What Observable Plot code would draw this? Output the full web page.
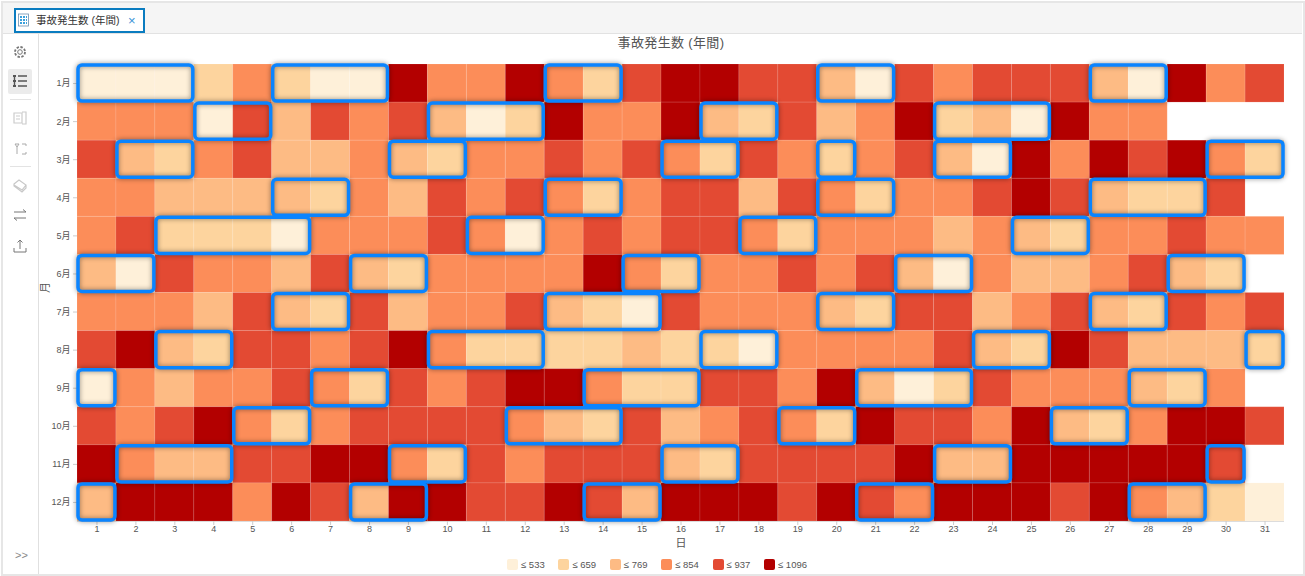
<!DOCTYPE html>
<html lang="ja">
<head>
<meta charset="utf-8">
<title>事故発生数 (年間)</title>
<script src="https://cdn.jsdelivr.net/npm/d3@7"></script>
<script src="https://cdn.jsdelivr.net/npm/@observablehq/plot@0.6"></script>
<style>
  html, body { margin: 0; padding: 0; background: #fff; overflow: hidden; }
  body { width: 1305px; height: 576px; position: relative; font-family: "Liberation Sans", "Noto Sans CJK JP", sans-serif; }
  #chart { position: absolute; left: 0; top: 0; }
  .abs { position: absolute; box-sizing: border-box; }
  #frame { left: 1px; top: 1px; width: 1304px; height: 575px; border: 2px solid #e6e6e6; pointer-events: none; }
  #tabbar { left: 3px; top: 3px; width: 1299px; height: 31px; background: #f5f5f5; border-bottom: 1px solid #e2e2e2; }
  #tab { left: 14px; top: 8px; width: 131px; height: 25px; background: #fff; border: 2px solid #0a7cc0; font-size: 10.5px; color: #333; line-height: 21px; padding-left: 20px; white-space: nowrap; }
  #tab .x { position: absolute; left: 112px; top: 0; color: #3a93d6; font-size: 13px; }
  #sidebar { left: 38px; top: 34px; width: 1px; height: 540px; background: #e0e0e0; }
  #active { left: 8px; top: 69px; width: 24px; height: 25px; background: #ebebeb; border-radius: 2px; }
  .sep { left: 10px; width: 21px; height: 1px; background: #e3e3e3; }
  .icon { left: 12px; width: 16px; height: 16px; }
  #title { left: 38px; top: 32px; width: 1266px; text-align: center; font-size: 13px; color: #555; letter-spacing: .35px; }
  #legend { left: 0; top: 559px; width: 1305px; height: 13px; font-size: 9.5px; color: #555; }
  #legend .sw { position: absolute; top: 0; width: 11px; height: 11px; border-radius: 2px; }
  #legend .lb { position: absolute; top: 0; line-height: 12px; white-space: nowrap; }
</style>
</head>
<body>
<div id="chart"></div>
<div class="abs" id="frame"></div>
<div class="abs" id="tabbar"></div>
<div class="abs" id="tab">事故発生数 (年間)<span class="x">×</span></div>
<svg class="abs" style="left:17px;top:13px;width:13px;height:14px" viewBox="0 0 13 14" fill="none">
  <rect x="1.5" y="1" width="10" height="12" stroke="#6b8fb0" stroke-width=".8"/>
  <path d="M3 4h7M3 7h7M3 10h7" stroke="#3aa0dc" stroke-width="2" stroke-dasharray="2 1"/>
</svg>
<div class="abs" id="sidebar"></div>
<div class="abs" id="active"></div>
<svg class="abs icon" style="top:44px" viewBox="0 0 16 16" fill="none" stroke="#777" stroke-width="1">
  <circle cx="8" cy="8" r="2.3"/><circle cx="8" cy="8" r="5" stroke-dasharray="2.4 1.5" stroke-width="1.8"/>
</svg>
<svg class="abs icon" style="top:73px" viewBox="0 0 16 16" fill="none" stroke="#555" stroke-width="1.4">
  <path d="M6 3h9M6 8h9M6 13h9M2.5 2v12" /><path d="M1 3h3M1 8h3M1 13h3" stroke-width="2"/>
</svg>
<div class="abs sep" style="top:99px"></div>
<svg class="abs icon" style="top:110px" viewBox="0 0 16 16" fill="none" stroke="#ccc" stroke-width="1.2">
  <path d="M2 3h8v10H2zM10 2h4v12h-4M4 6h4M4 9h4" />
</svg>
<svg class="abs icon" style="top:141px" viewBox="0 0 16 16" fill="none" stroke="#aaa" stroke-width="1">
  <path d="M3 3l4 0-2 3zM5 6v7M10 3h4v2M14 11v2h-4" />
</svg>
<div class="abs sep" style="top:166px"></div>
<svg class="abs icon" style="top:177px" viewBox="0 0 16 16" fill="none" stroke="#c8c8c8" stroke-width="1.2">
  <path d="M2 7l5-4 7 5-4 5-8-5zM2 7v2l8 6 4-4v-3" />
</svg>
<svg class="abs icon" style="top:207px" viewBox="0 0 16 16" fill="none" stroke="#777" stroke-width="1">
  <path d="M2 5h12M11 2.500l3 2.500M14 11H2M5 13.500L2 11" />
</svg>
<svg class="abs icon" style="top:238px" viewBox="0 0 16 16" fill="none" stroke="#777" stroke-width="1">
  <path d="M8 2v9M5.500 4.500L8 2l2.500 2.500M2 10v4h12v-4" />
</svg>
<div class="abs" style="left:15px;top:549px;font-size:11px;color:#888">&gt;&gt;</div>
<div class="abs" id="title">事故発生数 (年間)</div>
<div class="abs" id="legend"></div>
<script>
// Class of each cell: 1 = lightest (≤ 533) ... 6 = darkest (≤ 1096)
const jan = [1,1,1,2,4,2,1,1,6,4,4,6,4,2,5,6,6,5,5,3,1,5,4,5,5,5,3,1,6,4,5];
const feb = [4,4,4,1,5,3,5,4,5,3,1,2,6,4,4,6,3,2,5,3,4,6,2,3,1,6,4,4];
const mar = [5,3,2,4,5,3,3,4,3,2,4,4,5,4,5,4,2,5,4,2,4,5,3,1,6,4,6,5,6,4,2];
const apr = [4,4,3,3,3,3,2,4,3,5,4,5,4,2,4,5,5,3,5,4,2,4,4,5,6,5,3,2,2,5];
const may = [4,5,2,2,2,1,4,4,4,5,4,1,4,5,4,5,5,4,2,4,4,4,3,4,3,2,4,4,5,4,4];
const jun = [3,1,5,4,4,3,5,3,2,4,4,4,4,6,4,2,4,4,5,4,5,3,1,4,3,3,4,5,3,2];
const jul = [4,4,4,3,5,3,2,5,3,4,4,5,3,2,1,5,4,4,4,3,2,5,5,3,4,5,3,2,5,4,5];
const aug = [5,6,3,2,5,5,4,5,6,4,2,2,2,2,3,2,2,1,4,4,4,4,5,3,2,6,5,3,3,3,2];
const sep = [1,4,3,4,4,5,4,2,5,4,5,6,6,4,2,2,5,5,4,6,3,1,2,5,4,4,4,3,2,4];
const oct = [5,4,5,6,4,2,4,5,5,5,5,4,3,2,5,3,4,5,4,2,6,5,5,4,6,3,2,4,6,6,5];
const nov = [6,4,3,3,5,5,6,6,4,2,5,4,5,5,5,3,2,5,5,5,5,6,3,3,6,6,6,6,6,5];
const dec = [3,6,6,6,4,6,5,3,6,6,5,5,6,5,3,6,6,6,5,6,5,4,6,6,6,5,6,4,3,2,1];
const rows = [jan,feb,mar,apr,may,jun,jul,aug,sep,oct,nov,dec];

const classLabels = ["≤ 533","≤ 659","≤ 769","≤ 854","≤ 937","≤ 1096"];
const classColors = ["#fef0d9","#fdd49e","#fdbb84","#fc8d59","#e34a33","#b30000"];
const dayTicks = d3.range(1,32);
const monthTicks = d3.range(1,13);

// Highlighted runs: [month, first day, last day]
const runs = [
  [1,1,3],[1,6,8],[1,13,14],[1,20,21],[1,27,28],
  [2,4,5],[2,10,12],[2,17,18],[2,23,25],
  [3,2,3],[3,9,10],[3,16,17],[3,20,20],[3,23,24],[3,30,31],
  [4,6,7],[4,13,14],[4,20,21],[4,27,29],
  [5,3,6],[5,11,12],[5,18,19],[5,25,26],
  [6,1,2],[6,8,9],[6,15,16],[6,22,23],[6,29,30],
  [7,6,7],[7,13,15],[7,20,21],[7,27,28],
  [8,3,4],[8,10,12],[8,17,18],[8,24,25],[8,31,31],
  [9,1,1],[9,7,8],[9,14,16],[9,21,23],[9,28,29],
  [10,5,6],[10,12,14],[10,19,20],[10,26,27],
  [11,2,4],[11,9,10],[11,16,17],[11,23,24],[11,30,30],
  [12,1,1],[12,8,9],[12,14,15],[12,21,22],[12,28,29]
];

const cells = rows.flatMap((row, m) => row.map((k, d) => ({month: m + 1, day: d + 1, cls: classLabels[k - 1]})));

const chart = Plot.plot({
  width: 1305,
  height: 576,
  marginLeft: 77,
  marginRight: 21,
  marginTop: 64,
  marginBottom: 55,
  style: {fontFamily: '"Liberation Sans","Noto Sans CJK JP",sans-serif', background: "transparent"},
  x: {type: "linear", domain: [0.5, 31.5]},
  y: {type: "linear", domain: [12.5, 0.5]},
  color: {type: "ordinal", domain: classLabels, range: classColors},
  marks: [
    Plot.rect(cells, {
      x1: d => d.day - 0.5, x2: d => d.day + 0.5,
      y1: d => d.month - 0.5, y2: d => d.month + 0.5,
      fill: "cls", stroke: "#fff", strokeOpacity: 0.1, strokeWidth: 1
    }),
    Plot.ruleY([12.5], {stroke: "#dcdcdc"}),
    Plot.axisX({ticks: dayTicks, tickFormat: d => d, tickSize: 4, tickPadding: 0, stroke: "#ccc", fill: "#555", fontSize: 9, label: null, anchor: "bottom"}),
    Plot.axisY({ticks: monthTicks, tickFormat: d => `${d}月`, tickSize: 4, tickPadding: 3, stroke: "#ccc", fill: "#555", fontSize: 9, label: null, anchor: "left"}),
    Plot.text(["日"], {frameAnchor: "bottom", dy: 25, fontSize: 11, fill: "#555"}),
    Plot.text(["月"], {frameAnchor: "left", dx: -32, rotate: -90, fontSize: 11, fill: "#555"}),
    Plot.rect(runs, {
      x1: d => d[1] - 0.5, x2: d => d[2] + 0.5,
      y1: d => d[0] - 0.5, y2: d => d[0] + 0.5,
      fill: "none", stroke: "#0a84ff", strokeWidth: 3.5, rx: 4, inset: 1,
      imageFilter: "drop-shadow(0 0 2.5px rgba(0,0,0,.45))"
    })
  ]
});
document.getElementById("chart").append(chart);

const legend = document.getElementById("legend");
classLabels.forEach((label, i) => {
  const sw = document.createElement("div");
  sw.className = "sw";
  sw.style.left = (507 + i * 51.4) + "px";
  sw.style.background = classColors[i];
  const lb = document.createElement("div");
  lb.className = "lb";
  lb.style.left = (521 + i * 51.4) + "px";
  lb.textContent = label;
  legend.append(sw, lb);
});
</script>
</body>
</html>
